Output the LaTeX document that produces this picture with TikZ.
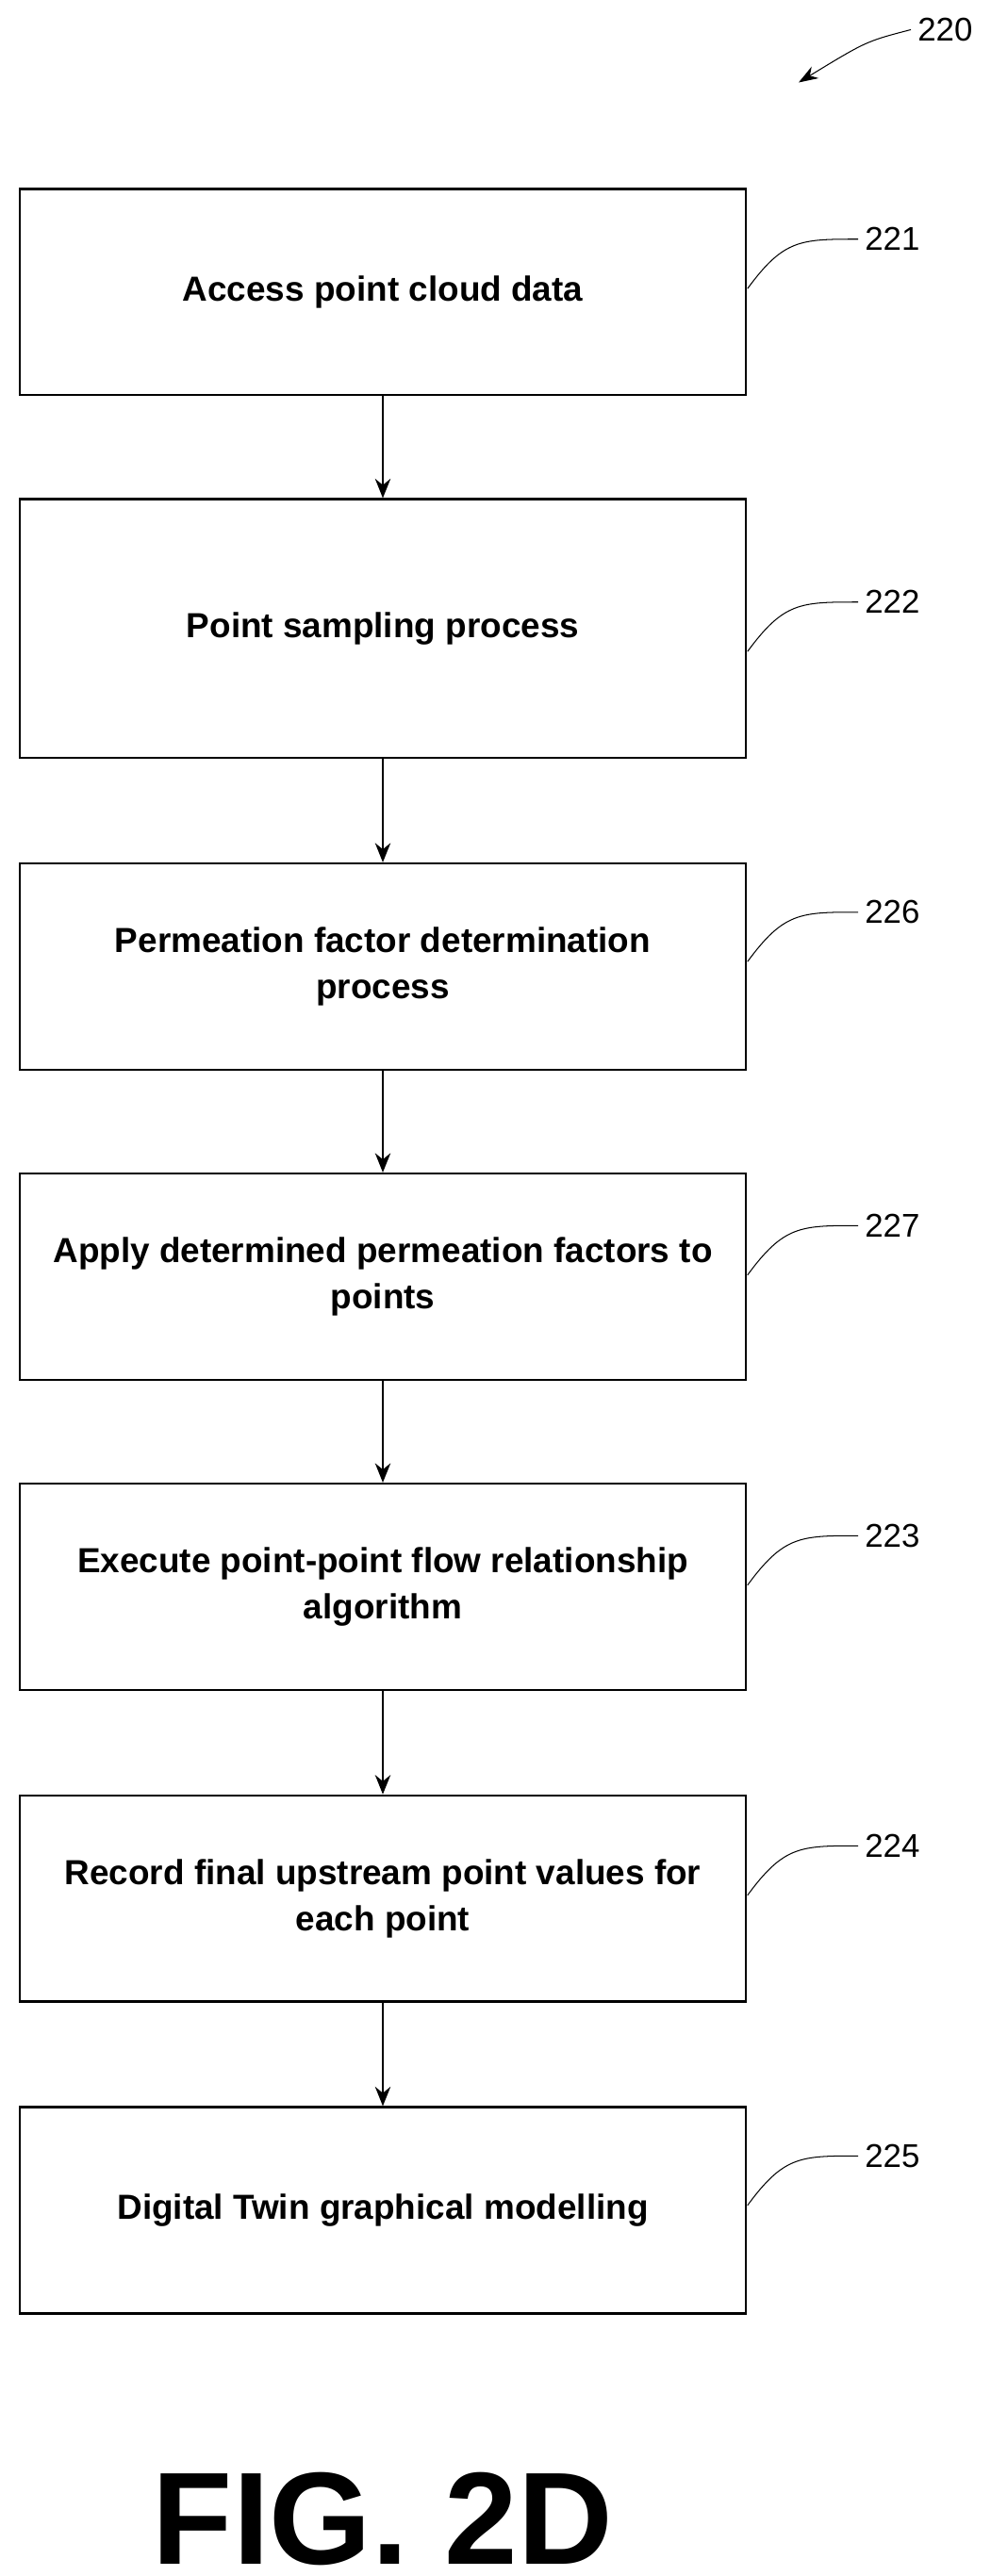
\documentclass[tikz,border=0pt]{standalone}
\usepackage{fontspec}
\setmainfont{Liberation Sans}
\usetikzlibrary{arrows.meta,positioning}
\tikzset{
  stage/.style={draw, line width=1.2pt, minimum width=13.2cm, minimum height=3.75cm,
    align=center, font=\fontsize{18}{24}\selectfont\bfseries},
  flow/.style={-{Stealth[length=10pt,width=8pt]}, line width=1pt},
  tag/.style={font=\fontsize{17}{18}\selectfont},
  lead/.style={line width=0.5pt}
}
\begin{document}
\begin{tikzpicture}[x=0.03cm, y=-0.03cm]
  \useasboundingbox (0,0) rectangle (600,1561.7);

  \node (s221) [stage] at (232,177) {Access point cloud data};
  \node (s222) [stage, minimum height=4.7cm] at (232,381) {Point sampling process};
  \node (s226) [stage] at (232,586) {Permeation factor determination\\process};
  \node (s227) [stage] at (232,774) {Apply determined permeation factors to\\points};
  \node (s223) [stage] at (232,962) {Execute point-point flow relationship\\algorithm};
  \node (s224) [stage] at (232,1151) {Record final upstream point values for\\each point};
  \node (s225) [stage] at (232,1340) {Digital Twin graphical modelling};

  \draw[flow] (s221) -- (s222);
  \draw[flow] (s222) -- (s226);
  \draw[flow] (s226) -- (s227);
  \draw[flow] (s227) -- (s223);
  \draw[flow] (s223) -- (s224);
  \draw[flow] (s224) -- (s225);

  % reference numerals
  \foreach \n/\y in {221/145, 222/365, 226/553, 227/743, 223/931, 224/1119, 225/1307} {
    \node (t\n) [tag, anchor=west] at (520,\y) {\n};
    \draw[lead] (453,\y+30) .. controls (475,\y) and (485,\y) .. (t\n.west);
  }

  \node (t220) [tag, anchor=west] at (552,18) {220};
  \draw[lead, -{Stealth[length=10pt,width=7pt]}] (t220.west) .. controls (525,25) .. (484,50);

  \node (fig) at (232,1527) {\fontsize{68}{70}\selectfont\bfseries FIG. 2D};
\end{tikzpicture}
\end{document}
